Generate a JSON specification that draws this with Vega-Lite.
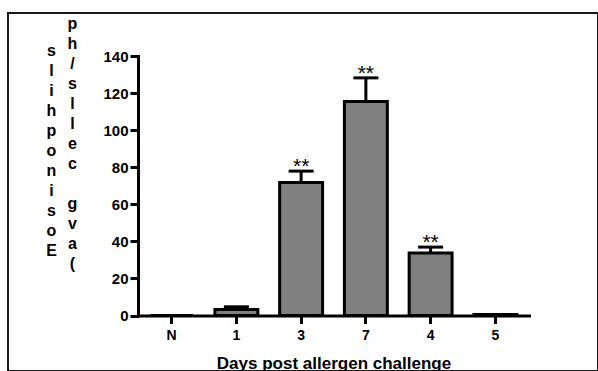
{
  "$schema": "https://vega.github.io/schema/vega-lite/v6.json",
  "autosize": {"type": "none"},
  "padding": {"left": 8, "top": 13, "right": 0, "bottom": 0},
  "width": 590,
  "height": 358,
  "background": "white",
  "config": {
    "view": {"stroke": "#1a1a1a", "strokeWidth": 2},
    "font": "Liberation Sans",
    "axis": {"grid": false}
  },
  "data": {
    "values": [
      {"day": "N", "value": 0, "upper": null, "sig": ""},
      {"day": "1", "value": 3.3, "upper": 4.7, "sig": ""},
      {"day": "3", "value": 71.8, "upper": 77.9, "sig": "**"},
      {"day": "7", "value": 115.5, "upper": 128.2, "sig": "**"},
      {"day": "4", "value": 33.7, "upper": 36.9, "sig": "**"},
      {"day": "5", "value": 0.5, "upper": null, "sig": ""}
    ]
  },
  "encoding": {
    "x": {
      "field": "day",
      "type": "nominal",
      "sort": null,
      "scale": {"domain": ["N", "1", "3", "7", "4", "5"], "range": [130, 521], "paddingInner": 0.337, "paddingOuter": 0.188},
      "axis": {
        "orient": "bottom",
        "offset": -55.5,
        "labelAngle": 0,
        "labelFont": "Liberation Sans",
        "labelFontSize": 14,
        "labelFontWeight": "bold",
        "labelColor": "black",
        "labelPadding": 4.5,
        "tickSize": 8,
        "tickWidth": 3,
        "tickColor": "black",
        "domainColor": "black",
        "domainWidth": 3,
        "domainCap": "square",
        "title": "Days post allergen challenge",
        "titleFont": "Liberation Sans",
        "titleFontSize": 17,
        "titleFontWeight": "bold",
        "titleColor": "black",
        "titleX": 325.5,
        "titleY": 52.5,
        "titleAlign": "center",
        "titleBaseline": "alphabetic"
      }
    }
  },
  "layer": [
    {
      "mark": {"type": "bar", "fill": "#808080", "stroke": "black", "strokeWidth": 3, "opacity": 1},
      "encoding": {
        "y": {
          "field": "value",
          "type": "quantitative",
          "scale": {"domain": [0, 140], "range": [302.5, 43], "nice": false},
          "axis": {
            "orient": "left",
            "offset": -130,
            "values": [0, 20, 40, 60, 80, 100, 120, 140],
            "labelFont": "Liberation Sans",
            "labelFontSize": 15,
            "labelFontWeight": "bold",
            "labelColor": "black",
            "labelPadding": 2,
            "tickSize": 8,
            "tickWidth": 3,
            "tickColor": "black",
            "domainColor": "black",
            "domainWidth": 3,
            "domainCap": "square",
            "title": ["p", "h", "/", "s", "l", "l", "e", "c", "\u2800", "g", "v", "a", "("],
            "titleAngle": 0,
            "titleX": -66,
            "titleY": 10,
            "titleAlign": "center",
            "titleBaseline": "middle",
            "titleFont": "Liberation Sans",
            "titleFontSize": 16,
            "titleFontWeight": "bold",
            "titleColor": "black",
            "titleLineHeight": 20
          }
        }
      }
    },
    {
      "transform": [{"filter": "datum.upper != null"}],
      "mark": {"type": "rule", "strokeWidth": 3, "color": "black", "opacity": 1},
      "encoding": {
        "y": {
          "field": "value",
          "type": "quantitative",
          "scale": {"domain": [0, 140], "range": [302.5, 43], "nice": false},
          "axis": {
            "orient": "left",
            "offset": 0,
            "domain": false,
            "ticks": false,
            "labels": false,
            "grid": false,
            "title": ["s", "l", "i", "h", "p", "o", "n", "i", "s", "o", "E"],
            "titleAngle": 0,
            "titleX": 43,
            "titleY": 37,
            "titleAlign": "center",
            "titleBaseline": "middle",
            "titleFont": "Liberation Sans",
            "titleFontSize": 16,
            "titleFontWeight": "bold",
            "titleColor": "black",
            "titleLineHeight": 20
          }
        },
        "y2": {"field": "upper"}
      }
    },
    {
      "transform": [{"filter": "datum.upper != null"}],
      "mark": {"type": "tick", "orient": "horizontal", "size": 25, "thickness": 3, "color": "black", "opacity": 1},
      "encoding": {
        "y": {
          "field": "upper",
          "type": "quantitative",
          "scale": {"domain": [0, 140], "range": [302.5, 43], "nice": false},
          "axis": null
        }
      }
    },
    {
      "transform": [{"filter": "datum.sig != ''"}],
      "mark": {"type": "text", "baseline": "alphabetic", "dy": 2, "fontSize": 21, "font": "Liberation Sans", "color": "black", "opacity": 1},
      "encoding": {
        "y": {
          "field": "upper",
          "type": "quantitative",
          "scale": {"domain": [0, 140], "range": [302.5, 43], "nice": false},
          "axis": null
        },
        "text": {"field": "sig"}
      }
    }
  ],
  "resolve": {"axis": {"y": "independent"}}
}
